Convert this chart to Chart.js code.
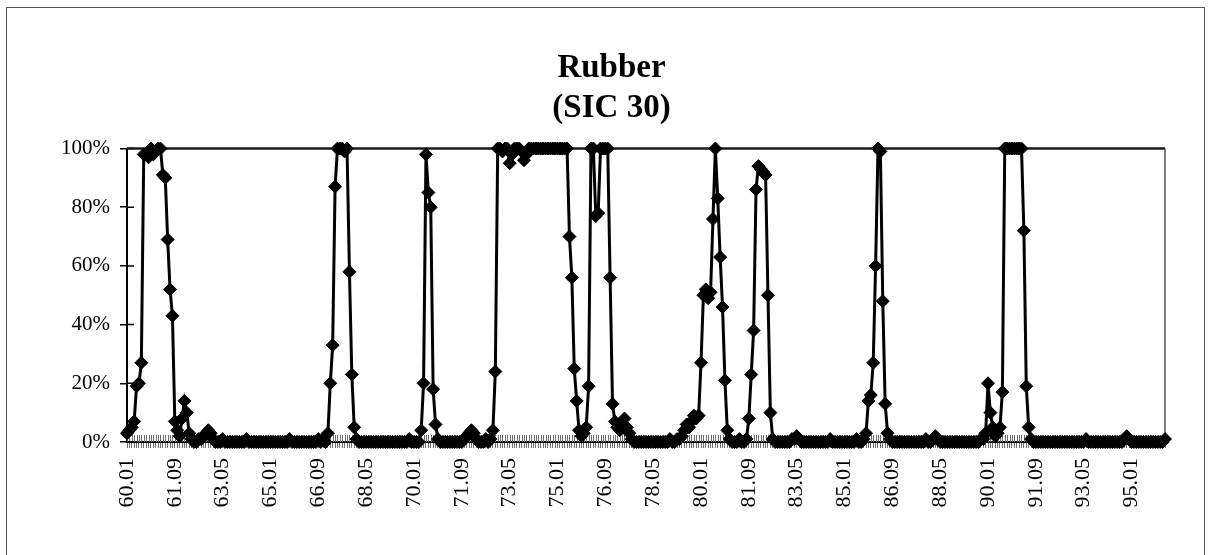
<!DOCTYPE html>
<html>
<head>
<meta charset="utf-8">
<script src="https://cdn.jsdelivr.net/npm/chart.js@4.4.1/dist/chart.umd.min.js"></script>
<style>
  html, body { margin: 0; padding: 0; background: #fff; }
  #wrap { position: relative; width: 1211px; height: 555px; overflow: hidden; }
  #frame { position: absolute; left: 6px; top: 7px; width: 1197px; height: 600px; border: 1px solid #555; pointer-events: none; }
  canvas { display: block; }
</style>
</head>
<body>
<div id="wrap">
  <canvas id="chart" width="1211" height="555"></canvas>
  <div id="frame"></div>
</div>
<script>
// Chart text
const titleLines = ["Rubber", "(SIC 30)"];
const yTicks = [0, 20, 40, 60, 80, 100];
const xTickLabels = ["60.01", "61.09", "63.05", "65.01", "66.09", "68.05", "70.01", "71.09",
  "73.05", "75.01", "76.09", "78.05", "80.01", "81.09", "83.05", "85.01", "86.09", "88.05",
  "90.01", "91.09", "93.05", "95.01"];

// Monthly share (%), one row per year
const share60s = [
  3, 4, 5, 7, 19, 20, 27, 98, 98, 97, 100, 98,        // 1960
  99, 100, 100, 91, 90, 69, 52, 43, 7, 4, 2, 8,       // 1961
  14, 10, 3, 1, 0, 0, 1, 1, 2, 3, 4, 3,               // 1962
  1, 0, 0, 0, 1, 0, 0, 0, 0, 0, 0, 0,                 // 1963
  0, 0, 1, 0, 0, 0, 0, 0, 0, 0, 0, 0,                 // 1964
  0, 0, 0, 0, 0, 0, 0, 0, 1, 0, 0, 0,                 // 1965
  0, 0, 0, 0, 0, 0, 0, 0, 1, 0, 1, 0,                 // 1966
  3, 20, 33, 87, 100, 100, 100, 99, 100, 58, 23, 5,   // 1967
  1, 0, 0, 0, 0, 0, 0, 0, 0, 0, 0, 0,                 // 1968
  0, 0, 0, 0, 0, 0, 0, 0, 0, 0, 1, 0                  // 1969
];
const share70s = [
  0, 0, 0, 4, 20, 98, 85, 80, 18, 6, 1, 0,            // 1970
  0, 0, 0, 0, 0, 0, 0, 0, 0, 1, 2, 3,                 // 1971
  4, 3, 1, 0, 0, 0, 1, 0, 1, 4, 24, 100,              // 1972
  100, 99, 100, 100, 95, 98, 100, 100, 100, 99, 96, 98, // 1973
  100, 100, 100, 100, 100, 100, 100, 100, 100, 100, 100, 100, // 1974
  100, 100, 100, 100, 100, 70, 56, 25, 14, 4, 2, 3,   // 1975
  5, 19, 100, 100, 77, 78, 100, 100, 100, 100, 56, 13, // 1976
  7, 5, 4, 6, 8, 5, 3, 1, 0, 0, 0, 0,                 // 1977
  0, 0, 0, 0, 0, 0, 0, 0, 0, 0, 0, 1,                 // 1978
  0, 0, 1, 1, 2, 4, 6, 5, 7, 9, 8, 9                  // 1979
];
const share80s = [
  27, 50, 52, 49, 51, 76, 100, 83, 63, 46, 21, 4,     // 1980
  1, 0, 0, 0, 1, 0, 0, 1, 8, 23, 38, 86,              // 1981
  94, 93, 92, 91, 50, 10, 1, 0, 0, 0, 0, 0,           // 1982
  0, 0, 1, 1, 2, 1, 0, 0, 0, 0, 0, 0,                 // 1983
  0, 0, 0, 0, 0, 0, 1, 0, 0, 0, 0, 0,                 // 1984
  0, 0, 0, 0, 0, 1, 0, 0, 1, 3, 14, 16,               // 1985
  27, 60, 100, 99, 48, 13, 3, 1, 0, 0, 0, 0,          // 1986
  0, 0, 0, 0, 0, 0, 0, 0, 0, 0, 1, 0,                 // 1987
  0, 1, 2, 1, 0, 0, 0, 0, 0, 0, 0, 0,                 // 1988
  0, 0, 0, 0, 0, 0, 0, 0, 0, 1, 1, 3                  // 1989
];
const share90s = [
  20, 10, 5, 2, 3, 5, 17, 100, 100, 100, 100, 100,    // 1990
  100, 100, 100, 72, 19, 5, 1, 0, 0, 0, 0, 0,         // 1991
  0, 0, 0, 0, 0, 0, 0, 0, 0, 0, 0, 0,                 // 1992
  0, 0, 0, 0, 0, 1, 0, 0, 0, 0, 0, 0,                 // 1993
  0, 0, 0, 0, 0, 0, 0, 0, 0, 1, 2, 1,                 // 1994
  0, 0, 0, 0, 0, 0, 0, 0, 0, 0, 0, 0,                 // 1995
  0, 0, 1                                             // 1996 (Jan-Mar)
];

const values = [...share60s, ...share70s, ...share80s, ...share90s];

// month categories "60.01" .. "96.03"
const months = values.map((v, i) => {
  const yy = 60 + Math.floor(i / 12);
  const mm = String((i % 12) + 1).padStart(2, "0");
  return `${yy}.${mm}`;
});

const serif = "'Liberation Serif', 'Times New Roman', serif";

// draws the plot frame and the inner halves of the tick marks
const plotFrame = {
  id: "plotFrame",
  beforeDatasetsDraw(chart) {
    const { ctx, chartArea: a, scales } = chart;
    ctx.save();
    // x ticks crossing the axis
    ctx.strokeStyle = "#6e6e6e";
    ctx.lineWidth = 1;
    ctx.beginPath();
    scales.x.ticks.forEach((t, i) => {
      const px = Math.round(scales.x.getPixelForTick(i)) + 0.5;
      ctx.moveTo(px, a.bottom - 7);
      ctx.lineTo(px, a.bottom);
    });
    ctx.stroke();
    // y ticks crossing the axis
    ctx.strokeStyle = "#000";
    ctx.lineWidth = 1.5;
    ctx.beginPath();
    yTicks.forEach((v) => {
      const py = scales.y.getPixelForValue(v);
      ctx.moveTo(a.left, py);
      ctx.lineTo(a.left + 7, py);
    });
    ctx.stroke();
    // top and right border of the plot area
    ctx.strokeStyle = "#1a1a1a";
    ctx.lineWidth = 2.5;
    ctx.beginPath();
    ctx.moveTo(a.left, a.top);
    ctx.lineTo(a.right, a.top);
    ctx.stroke();
    ctx.strokeStyle = "#555";
    ctx.lineWidth = 1.5;
    ctx.beginPath();
    ctx.moveTo(a.right, a.top);
    ctx.lineTo(a.right, a.bottom);
    ctx.stroke();
    ctx.restore();
  },
};

new Chart(document.getElementById("chart"), {
  type: "line",
  data: {
    labels: months,
    datasets: [
      {
        data: values,
        borderColor: "#000",
        borderWidth: 3,
        backgroundColor: "#000",
        pointStyle: "rectRot",
        pointRadius: 6.5,
        pointBackgroundColor: "#000",
        pointBorderColor: "#000",
        pointBorderWidth: 1,
        tension: 0,
        clip: false,
      },
    ],
  },
  options: {
    responsive: false,
    devicePixelRatio: 1,
    animation: false,
    layout: { padding: { left: 58, right: 46, top: 0, bottom: 0 } },
    plugins: {
      legend: { display: false },
      tooltip: { enabled: false },
      title: {
        display: true,
        text: titleLines,
        color: "#000",
        font: { family: serif, size: 33, weight: "bold", lineHeight: 1.22 },
        padding: { top: 48, bottom: 20 },
      },
    },
    scales: {
      x: {
        type: "category",
        offset: false,
        grid: { display: true, drawOnChartArea: false, drawTicks: true, tickLength: 6, color: "#6e6e6e", lineWidth: 1 },
        border: { display: true, color: "#000", width: 2 },
        ticks: {
          autoSkip: false,
          minRotation: 90,
          maxRotation: 90,
          padding: 10,
          color: "#000",
          font: { family: serif, size: 22 },
          callback: (val, i) => (xTickLabels.includes(months[i]) ? months[i] : ""),
        },
        afterFit: (s) => { s.height = 113; },
      },
      y: {
        min: 0,
        max: 100,
        grid: { display: true, drawOnChartArea: false, drawTicks: true, tickLength: 7, color: "#000", lineWidth: 1.5 },
        border: { display: true, color: "#000", width: 2 },
        ticks: {
          stepSize: 20,
          padding: 10,
          color: "#000",
          font: { family: serif, size: 21 },
          callback: (v) => v + "%",
        },
        afterFit: (s) => { s.width = 69; },
      },
    },
  },
  plugins: [plotFrame],
});
</script>
</body>
</html>
